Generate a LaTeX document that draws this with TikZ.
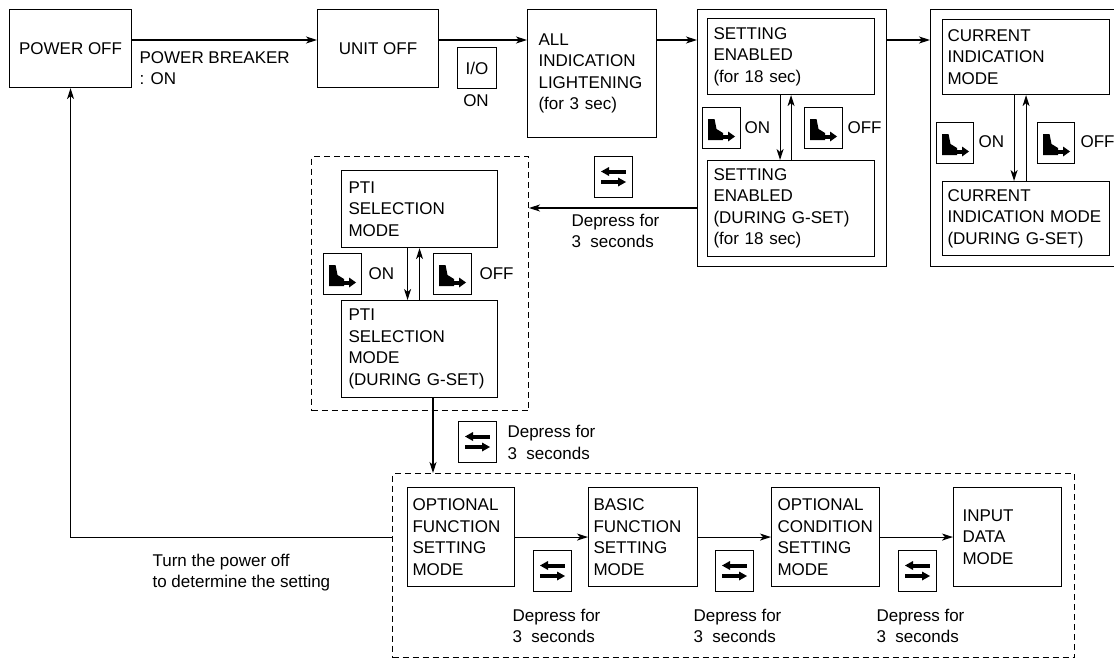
\documentclass[tikz,border=0pt]{standalone}
\usepackage{fontspec}
\setmainfont{Liberation Sans}
\usetikzlibrary{arrows.meta,calc}
\newcommand\pedalglyph[1]{%
  \begin{scope}[shift={(#1.north west)}]
    \fill (6,12) -- (12.5,12) -- (14.5,22) -- (21,26) -- (21,33) -- (6,33) -- cycle;
    \fill (20,27.5) rectangle (27,31.5);
    \fill (26,24.5) -- (33,29.5) -- (26,34.5) -- cycle;
  \end{scope}}
\newcommand\swapglyph[1]{%
  \begin{scope}[shift={(#1.north west)}]
    \fill (7,15.5) -- (15,11) -- (15,20) -- cycle;
    \fill (14.5,13.5) rectangle (32,17.5);
    \fill (32,26) -- (24,21.5) -- (24,30.5) -- cycle;
    \fill (7,24) rectangle (24.5,28);
  \end{scope}}
\begin{document}
\begin{tikzpicture}[x=1pt,y=-1pt,
  font=\fontsize{17}{21.5}\selectfont,
  line width=1.1pt,
  box/.style={draw, rectangle, anchor=north west, align=left, inner ysep=0pt},
  boxc/.style={draw, rectangle, anchor=north west, align=center, inner sep=0pt},
  grp/.style={draw, rectangle, anchor=north west, inner sep=0pt},
  dgrp/.style={grp, dash pattern=on 6pt off 4pt, line width=1pt},
  icon/.style={draw, rectangle, anchor=north west, inner sep=0pt, minimum width=38pt, minimum height=41pt},
  lbl/.style={anchor=west, align=left, inner sep=0pt},
  arr/.style={-{Stealth[length=11pt,width=7pt,inset=3pt]}, line width=1.1pt},
]
\useasboundingbox (0,0) rectangle (1114,661);
\clip (0,0) rectangle (1114,661);

% ---- top row
\node[boxc, minimum width=122pt, minimum height=78pt] (poweroff) at (9,9) {POWER OFF};
\node[boxc, minimum width=121pt, minimum height=78pt] (unitoff) at (317,9) {UNIT OFF};
\node[boxc, minimum width=39pt, minimum height=41pt] (io) at (457,47) {I/O};
\node[box, minimum width=129pt, minimum height=128pt, text width=107pt, inner xsep=11pt] (all) at (527,9)
  {\mbox{ALL}\\\mbox{INDICATION}\\\mbox{LIGHTENING}\\\mbox{(for 3 sec)}};

\node[grp, minimum width=189pt, minimum height=257pt] (outer1) at (697,9) {};
\node[box, minimum width=167pt, minimum height=76pt, text width=155pt, inner xsep=6pt] (se1) at (707,18)
  {\mbox{SETTING}\\\mbox{ENABLED}\\\mbox{(for 18 sec)}};
\node[box, minimum width=167pt, minimum height=96pt, text width=155pt, inner xsep=6pt] (se2) at (707,160)
  {\mbox{SETTING}\\\mbox{ENABLED}\\\mbox{(DURING G-SET)}\\\mbox{(for 18 sec)}};

\node[grp, minimum width=210pt, minimum height=257pt] (outer2) at (930,9) {};
\node[box, minimum width=167pt, minimum height=75pt, text width=157pt, inner xsep=5pt] (cur1) at (942,19)
  {\mbox{CURRENT}\\\mbox{INDICATION}\\\mbox{MODE}};
\node[box, minimum width=167pt, minimum height=74pt, text width=157pt, inner xsep=5pt] (cur2) at (942,181)
  {\mbox{CURRENT}\\\mbox{INDICATION MODE}\\\mbox{(DURING G-SET)}};

% ---- PTI group
\node[dgrp, minimum width=217pt, minimum height=254pt] (ptig) at (311,156) {};
\node[box, minimum width=156pt, minimum height=77pt, text width=142pt, inner xsep=7pt] (pti1) at (341,170)
  {\mbox{PTI}\\\mbox{SELECTION}\\\mbox{MODE}};
\node[box, minimum width=156pt, minimum height=97pt, text width=142pt, inner xsep=7pt] (pti2) at (341,300)
  {\mbox{PTI}\\\mbox{SELECTION}\\\mbox{MODE}\\\mbox{(DURING G-SET)}};

% ---- lower group
\node[dgrp, minimum width=682pt, minimum height=184pt] (lowg) at (392,473) {};
\node[box, minimum width=107pt, minimum height=99pt, text width=97pt, inner xsep=5pt] (ofs) at (407,487)
  {\mbox{OPTIONAL}\\\mbox{FUNCTION}\\\mbox{SETTING}\\\mbox{MODE}};
\node[box, minimum width=109pt, minimum height=99pt, text width=99pt, inner xsep=5pt] (bfs) at (588,487)
  {\mbox{BASIC}\\\mbox{FUNCTION}\\\mbox{SETTING}\\\mbox{MODE}};
\node[box, minimum width=108pt, minimum height=99pt, text width=96pt, inner xsep=6pt] (ocs) at (771,487)
  {\mbox{OPTIONAL}\\\mbox{CONDITION}\\\mbox{SETTING}\\\mbox{MODE}};
\node[box, minimum width=108pt, minimum height=99pt, text width=90pt, inner xsep=9pt] (idm) at (953,487)
  {\mbox{INPUT}\\\mbox{DATA}\\\mbox{MODE}};

% ---- icons
\node[icon] (ipso) at (702,107) {};
\node[icon] (ipsf) at (804,107) {};
\node[icon, minimum width=37pt] (ipco) at (936,122) {};
\node[icon, minimum width=37pt] (ipcf) at (1037,122) {};
\node[icon] (ippo) at (323,253) {};
\node[icon] (ippf) at (433,253) {};
\pedalglyph{ipso}\pedalglyph{ipsf}\pedalglyph{ipco}\pedalglyph{ipcf}\pedalglyph{ippo}\pedalglyph{ippf}

\node[icon] (isw1) at (594,156) {};
\node[icon] (isw2) at (458,421) {};
\node[icon] (isw3) at (533,550) {};
\node[icon] (isw4) at (715,550) {};
\node[icon] (isw5) at (898,550) {};
\swapglyph{isw1}\swapglyph{isw2}\swapglyph{isw3}\swapglyph{isw4}\swapglyph{isw5}

% ---- labels
\node[lbl] (lpb) at (139,68) {POWER BREAKER\\: ON};
\node[inner sep=0pt] (lion) at (476,101) {ON};
\node[lbl] (lson) at (744,128) {ON};
\node[lbl] (lsof) at (847,128) {OFF};
\node[lbl] (lcon) at (978,142) {ON};
\node[lbl] (lcof) at (1080,142) {OFF};
\node[lbl] (lpon) at (368,274) {ON};
\node[lbl] (lpof) at (479,274) {OFF};
\node[lbl] (ld1) at (571,231) {Depress for\\3\ \ seconds};
\node[lbl] (ld2) at (507,442.5) {Depress for\\3\ \ seconds};
\node[lbl] (ld3) at (512,626) {Depress for\\3\ \ seconds};
\node[lbl] (ld4) at (693,626) {Depress for\\3\ \ seconds};
\node[lbl] (ld5) at (876,626) {Depress for\\3\ \ seconds};
\node[lbl] (lturn) at (152,572.5) {Turn the power off\\to determine the setting};

% ---- connectors
\coordinate (ya) at (0,40);
\coordinate (yb) at (0,208);
\coordinate (xc) at (433,0);
\draw[arr] (poweroff.east |- ya) -- (unitoff.west |- ya);
\draw[arr] (unitoff.east |- ya) -- (all.west |- ya);
\draw[arr] (all.east |- ya) -- (outer1.west |- ya);
\draw[arr] (outer1.east |- ya) -- (outer2.west |- ya);

\draw[arr] ([xshift=-11pt]se1.south) -- ([xshift=-11pt]se2.north);
\draw[arr] (se2.north) -- (se1.south);
\draw[arr] ([xshift=-12pt]cur1.south) -- ([xshift=-12pt]cur2.north);
\draw[arr] (cur2.north) -- (cur1.south);
\draw[arr] ([xshift=-12pt]pti1.south) -- ([xshift=-12pt]pti2.north);
\draw[arr] (pti2.north) -- (pti1.south);

\draw[arr] (outer1.west |- yb) -- (ptig.east |- yb);
\draw[arr] (pti2.south -| xc) -- (lowg.north -| xc);

\draw[arr] (ofs.east) -- (bfs.west);
\draw[arr] (bfs.east) -- (ocs.west);
\draw[arr] (ocs.east) -- (idm.west);
\draw[arr] (lowg.west |- ofs.west) -| (poweroff.south);
\end{tikzpicture}
\end{document}
